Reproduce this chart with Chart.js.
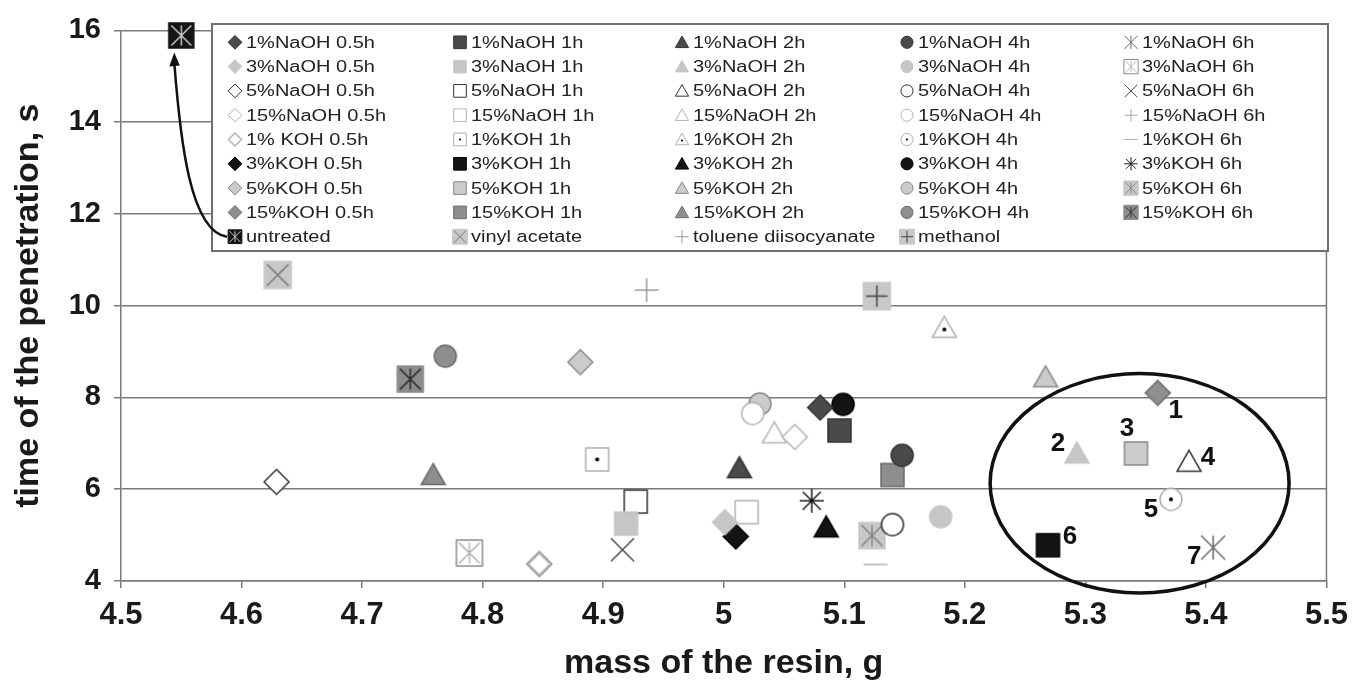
<!DOCTYPE html>
<html>
<head>
<meta charset="utf-8">
<script src="https://cdn.jsdelivr.net/npm/chart.js@4.4.1/dist/chart.umd.min.js"></script>
<style>
  html, body { margin: 0; padding: 0; background: #fff; }
  canvas { display: block; }
</style>
</head>
<body>
<canvas id="Graph" width="1357" height="684" style="width:1357px;height:684px"></canvas>
<script>
const FONT = '"Liberation Sans", Arial, sans-serif';

// legend order: 8 treatment rows x (0.5h, 1h, 2h, 4h, 6h), then the references
const seriesLabels = [
    '1%NaOH 0.5h', '1%NaOH 1h', '1%NaOH 2h', '1%NaOH 4h', '1%NaOH 6h',
    '3%NaOH 0.5h', '3%NaOH 1h', '3%NaOH 2h', '3%NaOH 4h', '3%NaOH 6h',
    '5%NaOH 0.5h', '5%NaOH 1h', '5%NaOH 2h', '5%NaOH 4h', '5%NaOH 6h',
    '15%NaOH 0.5h', '15%NaOH 1h', '15%NaOH 2h', '15%NaOH 4h', '15%NaOH 6h',
    '1% KOH 0.5h', '1%KOH 1h', '1%KOH 2h', '1%KOH 4h', '1%KOH 6h',
    '3%KOH 0.5h', '3%KOH 1h', '3%KOH 2h', '3%KOH 4h', '3%KOH 6h',
    '5%KOH 0.5h', '5%KOH 1h', '5%KOH 2h', '5%KOH 4h', '5%KOH 6h',
    '15%KOH 0.5h', '15%KOH 1h', '15%KOH 2h', '15%KOH 4h', '15%KOH 6h',
    'untreated', 'vinyl acetate', 'toluene diisocyanate', 'methanol'
];

// mass of the resin, g
const resinMass = [
    5.080, 5.096, 5.013, 5.148, 5.406,
    5.001, 4.919, 5.293, 5.180, 4.789,
    4.629, 4.927, 5.386, 5.140, 4.916,
    5.059, 5.019, 5.042, 5.024, null,
    4.847, 4.895, 5.183, 5.371, 5.126,
    5.010, 5.269, 5.085, 5.099, 5.073,
    4.881, 5.342, 5.267, 5.030, 5.123,
    5.360, 5.140, 4.759, 4.769, 4.740,
    4.550, 4.630, 4.936, 5.127
];

// time of the penetration, s
const penetrationTime = [
    7.78, 7.28, 6.46, 6.74, 4.73,
    5.28, 5.25, 6.78, 5.40, 4.61,
    6.16, 5.73, 6.60, 5.23, 4.68,
    7.14, 5.50, 7.22, 7.65, null,
    4.37, 6.65, 9.52, 5.78, 4.36,
    4.97, 4.78, 5.17, 7.85, 5.75,
    8.77, 6.78, 8.44, 7.86, 4.99,
    8.10, 6.31, 6.31, 8.90, 8.40,
    15.89, 10.67, 10.34, 10.21
];

const xMin = 4.5, xMax = 5.5, xStep = 0.1;
const yMin = 4, yMax = 16, yStep = 2;

// points numbered 1..7 inside the ellipse (series index)
const numberedSeries = [35, 7, 31, 12, 23, 26, 4];
const numberedText = ['1', '2', '3', '4', '5', '6', '7'];
const numberOffsets = [[18, 18], [-19, -10], [-9, -25], [19, -4], [-20, 11], [22, -8], [-19, 9]];
// ellipse around the group, in data units
const ringCenter = [5.345, 6.13];
const ringRadius = [0.124, 2.39];

// ---- marker styles (grey scale, like the printed figure)
const rowStyle = [
    { fill: '#4a4a4a', line: '#333333' },
    { fill: '#c6c6c6', line: '#c6c6c6' },
    { fill: '#ffffff', line: '#333333' },
    { fill: '#ffffff', line: '#b4b4b4' },
    { fill: '#ffffff', line: '#b0b0b0' },
    { fill: '#141414', line: '#000000' },
    { fill: '#cbcbcb', line: '#8a8a8a' },
    { fill: '#8e8e8e', line: '#6c6c6c' }
];
const colShape = ['diamond', 'square', 'triangle', 'circle'];
const shapeSize = { diamond: 25, square: 23, triangle: 24, circle: 22 };
const sixHour = [
    { shape: 'star6', line: '#6a6a6a', size: 24 },
    { shape: 'square', fill: '#ffffff', line: '#8c8c8c', inner: 'star6', innerColor: '#b8b8b8', size: 26 },
    { shape: 'x', line: '#4a4a4a', size: 23 },
    { shape: 'plus', line: '#a8a8a8', size: 23 },
    { shape: 'dash', line: '#b0b0b0', size: 24 },
    { shape: 'star8', line: '#1a1a1a', size: 24 },
    { shape: 'square', fill: '#c8c8c8', line: '#c8c8c8', inner: 'star6', innerColor: '#8a8a8a', size: 26 },
    { shape: 'square', fill: '#8c8c8c', line: '#8c8c8c', inner: 'star6', innerColor: '#303030', size: 26 }
];
const referenceMarkers = [
    { shape: 'square', fill: '#141414', line: '#141414', inner: 'star6', innerColor: '#c8c8c8', size: 25 },
    { shape: 'square', fill: '#c8c8c8', line: '#c8c8c8', inner: 'x', innerColor: '#777777', size: 27 },
    { shape: 'plus', line: '#9a9a9a', size: 24 },
    { shape: 'square', fill: '#c8c8c8', line: '#c8c8c8', inner: 'plus', innerColor: '#444444', size: 27 }
];

const markers = seriesLabels.map((label, i) => {
    if (i >= 40) return referenceMarkers[i - 40];
    const row = Math.floor(i / 5), col = i % 5;
    if (col === 4) return sixHour[row];
    const st = rowStyle[row];
    const m = { shape: colShape[col], fill: st.fill, line: st.line, size: shapeSize[colShape[col]] };
    if (row === 4) {
        if (col === 0) { m.line = '#8a8a8a'; m.inner = 'diamond'; m.innerColor = '#bdbdbd'; m.size = 25; }
        else { m.inner = 'dot'; m.innerColor = '#000000'; }
    }
    return m;
});

function strokeLines(ctx, kind, s) {
    ctx.beginPath();
    if (kind === 'x' || kind === 'star6' || kind === 'star8') {
        const d = kind === 'star8' ? s * 0.75 : s;
        ctx.moveTo(-d, -d); ctx.lineTo(d, d);
        ctx.moveTo(d, -d); ctx.lineTo(-d, d);
    }
    if (kind === 'star6' || kind === 'star8' || kind === 'plus') {
        ctx.moveTo(0, -s); ctx.lineTo(0, s);
    }
    if (kind === 'star8' || kind === 'plus' || kind === 'dash') {
        ctx.moveTo(-s, 0); ctx.lineTo(s, 0);
    }
    ctx.stroke();
}

function drawShape(ctx, m, k) {
    const s = m.size * k / 2;
    ctx.lineWidth = Math.max(1, 1.5 * k);
    ctx.strokeStyle = m.line;
    ctx.fillStyle = m.fill || '#fff';
    if (['star6', 'star8', 'x', 'plus', 'dash'].includes(m.shape)) {
        strokeLines(ctx, m.shape, s);
        return;
    }
    ctx.beginPath();
    if (m.shape === 'square') ctx.rect(-s, -s, 2 * s, 2 * s);
    if (m.shape === 'diamond') { ctx.moveTo(0, -s); ctx.lineTo(s, 0); ctx.lineTo(0, s); ctx.lineTo(-s, 0); ctx.closePath(); }
    if (m.shape === 'triangle') { ctx.moveTo(0, -s * 0.95); ctx.lineTo(s, s * 0.8); ctx.lineTo(-s, s * 0.8); ctx.closePath(); }
    if (m.shape === 'circle') ctx.arc(0, 0, s, 0, Math.PI * 2);
    ctx.fill();
    ctx.stroke();
    if (!m.inner) return;
    ctx.strokeStyle = m.innerColor;
    ctx.fillStyle = m.innerColor;
    if (m.inner === 'dot') {
        ctx.beginPath();
        ctx.arc(0, m.shape === 'triangle' ? s * 0.15 : 0, Math.max(1.1, 2 * k), 0, Math.PI * 2);
        ctx.fill();
    } else if (m.inner === 'diamond') {
        const d = s * 0.85;
        ctx.beginPath();
        ctx.moveTo(0, -d); ctx.lineTo(d, 0); ctx.lineTo(0, d); ctx.lineTo(-d, 0); ctx.closePath();
        ctx.stroke();
    } else {
        strokeLines(ctx, m.inner, s * 0.8);
    }
}

function markerCanvas(m) {
    const c = document.createElement('canvas');
    const n = Math.ceil(m.size + 6);
    c.width = n; c.height = n;
    const g = c.getContext('2d');
    g.translate(n / 2, n / 2);
    drawShape(g, m, 1);
    return c;
}

const datasets = seriesLabels.map((label, i) => ({
    label: label,
    data: resinMass[i] === null ? [] : [{ x: resinMass[i], y: penetrationTime[i] }],
    pointStyle: markerCanvas(markers[i]),
    pointRadius: 11,
    clip: false
}));

const legendColX = [246, 471, 693, 918, 1142];

const decorations = {
    id: 'decorations',
    beforeDatasetsDraw(chart) {
        const { ctx, chartArea: a } = chart;
        ctx.save();
        ctx.strokeStyle = '#7a7a7a';
        ctx.lineWidth = 1.5;
        ctx.beginPath();
        ctx.moveTo(a.right, a.top);
        ctx.lineTo(a.right, a.bottom);
        ctx.stroke();

        // legend box
        ctx.fillStyle = '#ffffff';
        ctx.fillRect(212, 24, 1116, 227);
        ctx.strokeStyle = '#6e6e6e';
        ctx.lineWidth = 2;
        ctx.strokeRect(212, 24, 1116, 227);

        seriesLabels.forEach((label, i) => {
            const col = i < 40 ? i % 5 : i - 40;
            const row = i < 40 ? Math.floor(i / 5) : 8;
            const tx = legendColX[col], ty = 42.3 + row * 24.3;
            ctx.save();
            ctx.translate(tx - 11, ty);
            drawShape(ctx, markers[i], 0.55);
            ctx.restore();
            ctx.save();
            ctx.translate(tx, ty);
            ctx.scale(1.25, 1);
            ctx.fillStyle = '#222';
            ctx.font = '16px ' + FONT;
            ctx.textBaseline = 'middle';
            ctx.fillText(label, 0, 1);
            ctx.restore();
        });
        ctx.restore();
    },
    afterDatasetsDraw(chart) {
        const { ctx } = chart;
        const xs = chart.scales.x, ys = chart.scales.y;
        ctx.save();

        // ellipse
        const cx = xs.getPixelForValue(ringCenter[0]);
        const cy = ys.getPixelForValue(ringCenter[1]);
        const rx = xs.getPixelForValue(ringCenter[0] + ringRadius[0]) - cx;
        const ry = cy - ys.getPixelForValue(ringCenter[1] + ringRadius[1]);
        ctx.strokeStyle = '#111';
        ctx.lineWidth = 3.5;
        ctx.beginPath();
        ctx.ellipse(cx, cy, rx, ry, 0, 0, Math.PI * 2);
        ctx.stroke();

        // numbers
        ctx.fillStyle = '#111';
        ctx.font = 'bold 26px ' + FONT;
        ctx.textAlign = 'center';
        ctx.textBaseline = 'middle';
        numberedSeries.forEach((si, k) => {
            const px = xs.getPixelForValue(resinMass[si]);
            const py = ys.getPixelForValue(penetrationTime[si]);
            ctx.fillText(numberedText[k], px + numberOffsets[k][0], py + numberOffsets[k][1]);
        });

        // arrow from the legend entry to the untreated point
        const ux = xs.getPixelForValue(resinMass[40]) - 7;
        const uy = ys.getPixelForValue(penetrationTime[40]) + 17;
        const sx = legendColX[0] - 19, sy = 42.3 + 8 * 24.3;
        ctx.strokeStyle = '#111';
        ctx.lineWidth = 2.5;
        ctx.beginPath();
        ctx.moveTo(sx, sy);
        ctx.bezierCurveTo(190, sy - 5, ux + 6, 140, ux, uy + 10);
        ctx.stroke();
        ctx.fillStyle = '#111';
        ctx.beginPath();
        ctx.moveTo(ux, uy);
        ctx.lineTo(ux - 5, uy + 14);
        ctx.lineTo(ux + 5.5, uy + 13);
        ctx.closePath();
        ctx.fill();
        ctx.restore();
    }
};

new Chart(document.getElementById('Graph'), {
    type: 'scatter',
    data: { datasets: datasets },
    options: {
        responsive: false,
        animation: false,
        devicePixelRatio: 1,
        events: [],
        layout: { padding: { top: 24, right: 26, left: 0, bottom: 0 } },
        plugins: { legend: { display: false }, tooltip: { enabled: false } },
        scales: {
            x: {
                min: xMin, max: xMax,
                ticks: { stepSize: xStep, autoSkip: false, maxRotation: 0, padding: 9,
                    callback: v => String(Math.round(v * 10) / 10),
                    color: '#1a1a1a', font: { family: FONT, size: 31, weight: 'bold' } },
                grid: { drawOnChartArea: false, tickLength: 7, color: '#7a7a7a', lineWidth: 1.5 },
                border: { color: '#7a7a7a', width: 1.5 },
                title: { display: true, text: 'mass of the resin, g', color: '#1a1a1a',
                    font: { family: FONT, size: 34, weight: 'bold' }, padding: { top: 0, bottom: 0 } },
                afterFit(scale) { scale.height = 103; }
            },
            y: {
                min: yMin, max: yMax,
                ticks: { stepSize: yStep, padding: 13, color: '#1a1a1a',
                    font: { family: FONT, size: 29, weight: 'bold' } },
                grid: { tickLength: 7, color: '#7a7a7a', lineWidth: 1.5 },
                border: { color: '#7a7a7a', width: 1.5 },
                title: { display: true, text: 'time of the penetration, s', color: '#1a1a1a',
                    font: { family: FONT, size: 34, weight: 'bold' }, padding: { top: 8, bottom: 0 } },
                afterFit(scale) { scale.width = 121; }
            }
        }
    },
    plugins: [decorations]
});
</script>
</body>
</html>
